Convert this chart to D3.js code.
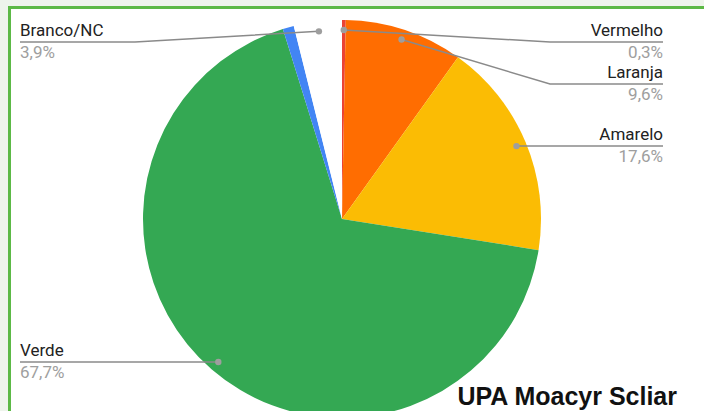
<!DOCTYPE html>
<html>
<head>
<meta charset="utf-8">
<script src="https://cdn.jsdelivr.net/npm/d3@7"></script>
<style>
  body { margin: 0; background: #eef4ec; }
  #chart { position: absolute; left: 8px; top: 6px; width: 720px; height: 430px;
           background: #fff; border: 3px solid #5cb946; box-sizing: border-box; }
  svg { position: absolute; left: 0; top: 0; }
</style>
</head>
<body>
<div id="chart"></div>
<script>
// data
const categories = ["Vermelho", "Laranja", "Amarelo", "Verde", "Azul", "Branco/NC"];
const values = [0.3, 9.6, 17.6, 67.7, 0.9, 3.9];
const colors = ["#ea4335", "#ff6d01", "#fbbc04", "#34a853", "#4285f4", "#ffffff"];
const showLabel = [true, true, true, true, false, true];
const title = "UPA Moacyr Scliar";

const width = 704, height = 411;
const cx = 342, cy = 219, radius = 199;

const svg = d3.select("body").append("svg")
    .attr("width", width)
    .attr("height", height);

const g = svg.append("g").attr("transform", `translate(${cx}, ${cy})`);

const pie = d3.pie().sort(null).value(d => d.value);
const arcs = pie(categories.map((c, i) => ({ name: c, value: values[i], color: colors[i], label: showLabel[i] })));

const arc = d3.arc().innerRadius(0).outerRadius(radius);
const dotArc = d3.arc().innerRadius(radius * 0.95).outerRadius(radius * 0.95);

g.selectAll(".slice")
    .data(arcs)
    .enter().append("path")
    .attr("class", "slice")
    .attr("d", arc)
    .attr("fill", d => d.data.color);

// label layout: right side / left side, push apart vertically
const fmt = v => v.toFixed(1).replace(".", ",") + "%";
const labelled = arcs.filter(d => d.data.label).map(d => {
    const p = dotArc.centroid(d);
    const mid = (d.startAngle + d.endAngle) / 2;
    return { d: d, dx: cx + p[0], dy: cy + p[1], right: mid < Math.PI };
});

function layout(list) {
    list.sort((a, b) => a.dy - b.dy);
    let last = -Infinity;
    list.forEach(l => {
        l.ly = Math.max(l.dy, 42, last + 42);
        last = l.ly;
    });
}
layout(labelled.filter(l => l.right));
layout(labelled.filter(l => !l.right));

const lab = svg.append("g");
labelled.forEach(l => {
    const tx = l.right ? 663 : 20;
    const ex = l.right ? tx - 113 : tx + 115;
    lab.append("path")
        .attr("d", `M${tx},${l.ly}L${ex},${l.ly}L${l.dx},${l.dy}`)
        .attr("fill", "none")
        .attr("stroke", "#8a8a8a")
        .attr("stroke-width", 1.5);
    lab.append("circle")
        .attr("cx", l.dx).attr("cy", l.dy).attr("r", 3.2)
        .attr("fill", "#9e9e9e");
    lab.append("text")
        .attr("x", tx).attr("y", l.ly - 6)
        .attr("text-anchor", l.right ? "end" : "start")
        .style("font-family", "Roboto, Arial, sans-serif")
        .style("font-size", "17px")
        .style("fill", "#222")
        .text(l.d.data.name);
    lab.append("text")
        .attr("x", tx).attr("y", l.ly + 16)
        .attr("text-anchor", l.right ? "end" : "start")
        .style("font-family", "Roboto, Arial, sans-serif")
        .style("font-size", "17px")
        .style("fill", "#9e9e9e")
        .text(fmt(l.d.data.value));
});

svg.append("text")
    .attr("x", 677).attr("y", 405)
    .attr("text-anchor", "end")
    .style("font-family", "'Liberation Sans', Arial, sans-serif")
    .style("font-weight", "bold")
    .style("font-size", "25px")
    .style("fill", "#111")
    .text(title);
</script>
</body>
</html>
